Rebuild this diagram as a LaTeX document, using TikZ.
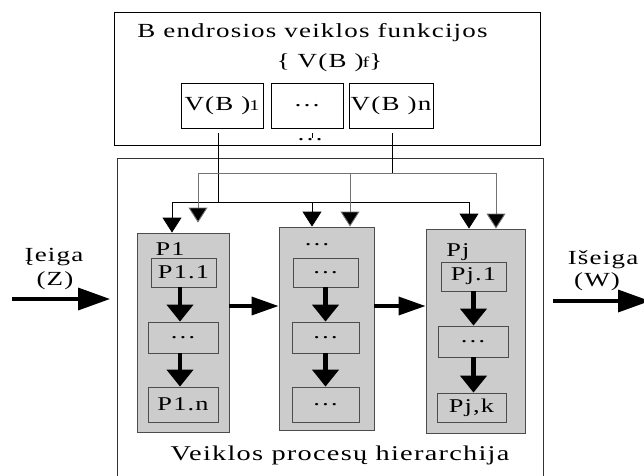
\documentclass[tikz,border=0pt]{standalone}
\usepackage{fontspec}
\setmainfont{Liberation Serif}[FakeStretch=1.35, LetterSpace=6]
\usetikzlibrary{arrows.meta}
\newcommand{\fsz}[1]{\fontsize{#1}{#1}\selectfont}
\begin{document}
\begin{tikzpicture}[x=1pt,y=-1pt,
  frame/.style={draw=black, line width=0.9pt, inner sep=0pt},
  fnbox/.style={draw=black, line width=0.8pt, fill=white, inner sep=0pt,
    minimum height=45pt, font=\fsz{20}},
  column/.style={draw=black!70, fill=black!20, line width=0.9pt, inner sep=0pt},
  stepbox/.style={draw=black!70, fill=black!20, line width=0.8pt, inner sep=0pt,
    font=\fsz{19.5}},
  collabel/.style={font=\fsz{19.5}, inner sep=0pt},
  feed/.style={line width=0.9pt, -{Triangle[length=15pt,width=19pt,fill=black]}},
  stepflow/.style={line width=4.5pt, -{Triangle[length=17pt,width=26pt]}},
  colflow/.style={line width=3.5pt, -{Triangle[length=27pt,width=18pt]}},
  ioflow/.style={line width=3.5pt, -{Triangle[length=32pt,width=22pt]}},
  iolabel/.style={font=\fsz{20}, inner sep=0pt},
]
\useasboundingbox (0,0) rectangle (644,475);

% upper block: business functions
\node[frame, minimum width=426pt, minimum height=133pt] (top) at (327,78.5) {};
\node[font=\fsz{20}] (title) at (312.5,33) {B endrosios veiklos funkcijos};
\node[font=\fsz{20}] (set) at (329.5,63) {\{ V(B )\kern-1pt{\fsz{15}f}\}};
\node[fnbox, minimum width=82pt] (vb1) at (222,105.5) {V(B )\kern-1pt{\fsz{15}1}};
\node[fnbox, minimum width=72pt] (vbm) at (307,105.5) {\raisebox{-3pt}{\dots}};
\node[fnbox, minimum width=84pt] (vbn) at (391,105.5) {V(B )n};
\node[font=\fsz{20}, inner sep=0pt] (vdots) at (310,140) {\dots};
\draw[line width=0.6pt] (312,133) -- (312,138);

% lower block: process hierarchy (open at the bottom)
\draw[line width=0.9pt, black!80] (117,480) -- (117,158) -- (543,158) -- (543,480);
\node[font=\fsz{21}] (hier) at (340,455) {Veiklos procesų hierarchija};

% process columns
\node[column, minimum width=92pt, minimum height=199pt] (c1) at (183,332.5) {};
\node[column, minimum width=95pt, minimum height=203pt] (c2) at (326.5,328.5) {};
\node[column, minimum width=99pt, minimum height=204pt] (c3) at (475.5,331) {};

\node[collabel] (c1l) at (170,249) {P1};
\node[stepbox, minimum width=65pt, minimum height=29pt] (p11) at (183.5,272.5) {P1.1};
\node[stepbox, minimum width=70pt, minimum height=31pt] (p1m) at (183,337.5) {\dots};
\node[stepbox, minimum width=70pt, minimum height=35pt] (p1n) at (183,404.5) {P1.n};

\node[collabel] (c2l) at (317,245) {\dots};
\node[stepbox, minimum width=65pt, minimum height=29pt] (p21) at (325.5,272.5) {\dots};
\node[stepbox, minimum width=67pt, minimum height=31pt] (p2m) at (325.5,337.5) {\dots};
\node[stepbox, minimum width=67pt, minimum height=35pt] (p2n) at (325.5,404.5) {\dots};

\node[collabel] (c3l) at (458,252) {Pj};
\node[stepbox, minimum width=65pt, minimum height=29pt] (pj1) at (473.5,276.5) {Pj.1};
\node[stepbox, minimum width=70pt, minimum height=31pt] (pjm) at (473,341.5) {\dots};
\node[stepbox, minimum width=69pt, minimum height=29pt] (pjk) at (471.5,407.5) {Pj,k};

% flow inside the columns
\draw[stepflow] (p11.south -| 180,0) -- (p1m.north -| 180,0);
\draw[stepflow] (p1m.south -| 180,0) -- (p1n.north -| 180,0);
\draw[stepflow] (p21.south) -- (p2m.north -| p21.south);
\draw[stepflow] (p2m.south -| p21.south) -- (p2n.north -| p21.south);
\draw[stepflow] (pj1.south) -- (pjm.north -| pj1.south);
\draw[stepflow] (pjm.south -| pj1.south) -- (pjk.north -| pj1.south);

% flow between the columns
\draw[colflow] (c1.east |- 0,306) -- (c2.west |- 0,306);
\draw[colflow] (c2.east |- 0,306) -- (c3.west |- 0,306);

% function buses feeding the columns
\coordinate (busA) at (218,202);
\coordinate (busAl) at (172,202);
\coordinate (busAm) at (312,202);
\coordinate (busAr) at (469,202);
\coordinate (busB) at (392,173);
\coordinate (busBl) at (198,173);
\coordinate (busBm) at (350,173);
\coordinate (busBr) at (496,173);

\draw[line width=0.9pt] (vb1.south -| busA) ++(0,5) -- (busA);
\draw[line width=0.9pt] (busAl) -- (busAr);
\draw[line width=0.9pt] (vbn.south -| busB) ++(0,5) -- (busB);
\draw[line width=0.9pt, black!55] (busBl) -- (busBr);

\draw[feed] (busAl) -- (c1.north -| busAl);
\draw[feed] (busAm) -- (c2.north -| busAm);
\draw[feed] (busAr) -- (c3.north -| busAr);
\draw[feed, black!55, shorten >=10pt] (busBl) -- (c1.north -| busBl);
\draw[feed, black!55] (busBm) -- (c2.north -| busBm);
\draw[feed, black!55] (busBr) -- (c3.north -| busBr);

% input and output
\coordinate (inS) at (12,299);
\coordinate (inE) at (110,299);
\coordinate (outS) at (553,301);
\coordinate (outE) at (650,301);
\draw[ioflow] (inS) -- (inE);
\draw[ioflow] (outS) -- (outE);
\node[iolabel] (inl1) at (54,257) {Įeiga};
\node[iolabel] (inl2) at (55,281) {(Z)};
\node[iolabel] (outl1) at (603,260) {Išeiga};
\node[iolabel] (outl2) at (597,282) {(W)};
\end{tikzpicture}
\end{document}
